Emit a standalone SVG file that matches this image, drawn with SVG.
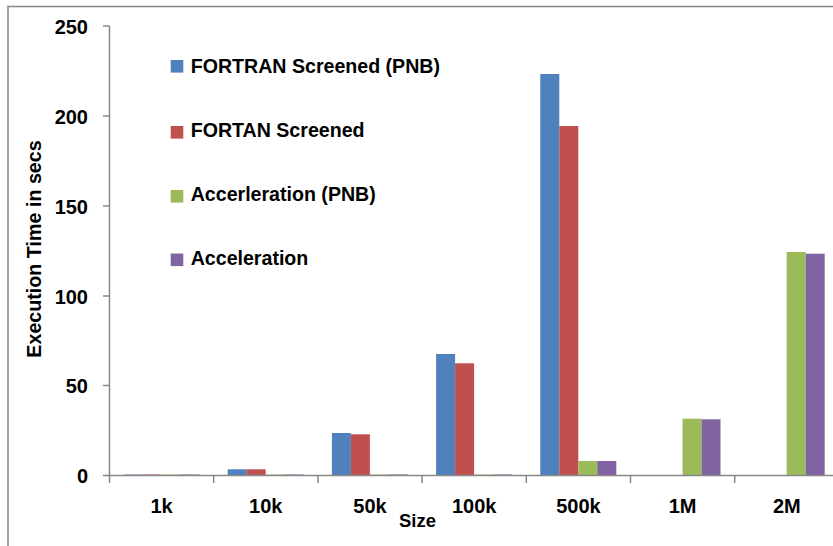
<svg xmlns="http://www.w3.org/2000/svg" width="833" height="546" viewBox="0 0 833 546">
<style>
text{font-family:"Liberation Sans",Arial,sans-serif;font-weight:bold;fill:#000}
.yl{font-size:20px;text-anchor:end}
.xl{font-size:20px;text-anchor:middle}
.lg{font-size:19.6px}
.ax{stroke:#888;stroke-width:1.5;fill:none}
.b{fill:#4F81BD}.r{fill:#C0504D}.g{fill:#9BBB59}.p{fill:#8064A2}
</style>
<rect x="0" y="0" width="833" height="546" fill="#fff"/>
<rect x="8" y="6.5" width="840" height="560" fill="none" stroke="#8a8a8a" stroke-width="1.6"/>
<g id="bars">
<rect class="b" x="123.5" y="474.5" width="19" height="1"/>
<rect class="r" x="142.5" y="474.5" width="19" height="1"/>
<rect class="g" x="161.5" y="474.5" width="19" height="1"/>
<rect class="p" x="180.5" y="474.5" width="19" height="1"/>
<rect class="b" x="227.7" y="469.3" width="19" height="6.2"/>
<rect class="r" x="246.7" y="469.3" width="19" height="6.2"/>
<rect class="g" x="265.7" y="474.5" width="19" height="1"/>
<rect class="p" x="284.7" y="474.5" width="19" height="1"/>
<rect class="b" x="331.9" y="433" width="19" height="42.5"/>
<rect class="r" x="350.9" y="434.3" width="19" height="41.2"/>
<rect class="g" x="369.9" y="474.5" width="19" height="1"/>
<rect class="p" x="388.9" y="474.5" width="19" height="1"/>
<rect class="b" x="436.1" y="354" width="19" height="121.5"/>
<rect class="r" x="455.1" y="363.3" width="19" height="112.2"/>
<rect class="g" x="474.1" y="474.5" width="19" height="1"/>
<rect class="p" x="493.1" y="474.5" width="19" height="1"/>
<rect class="b" x="540.3" y="74" width="19" height="401.5"/>
<rect class="r" x="559.3" y="126" width="19" height="349.5"/>
<rect class="g" x="578.3" y="461" width="19" height="14.5"/>
<rect class="p" x="597.3" y="461" width="19" height="14.5"/>
<rect class="g" x="682.5" y="418.7" width="19" height="56.8"/>
<rect class="p" x="701.5" y="419.3" width="19" height="56.2"/>
<rect class="g" x="786.7" y="252" width="19" height="223.5"/>
<rect class="p" x="805.7" y="253.7" width="19" height="221.8"/>
</g>
<g id="axes">
<path class="ax" d="M109.5 26V475.5H840"/>
<path class="ax" d="M103 26H109.5M103 116H109.5M103 206H109.5M103 296H109.5M103 385.5H109.5M103 475.5H109.5"/>
<path class="ax" d="M109.5 475.5V483M213.7 475.5V483M317.9 475.5V483M422.1 475.5V483M526.3 475.5V483M630.5 475.5V483M734.7 475.5V483"/>
</g>
<g id="ylabels">
<text class="yl" x="88" y="34">250</text>
<text class="yl" x="88" y="124">200</text>
<text class="yl" x="88" y="214">150</text>
<text class="yl" x="88" y="304">100</text>
<text class="yl" x="88" y="393">50</text>
<text class="yl" x="88" y="483">0</text>
</g>
<g id="xlabels">
<text class="xl" x="161.6" y="513">1k</text>
<text class="xl" x="265.8" y="513">10k</text>
<text class="xl" x="370" y="513">50k</text>
<text class="xl" x="474.2" y="513">100k</text>
<text class="xl" x="578.4" y="513">500k</text>
<text class="xl" x="682.6" y="513">1M</text>
<text class="xl" x="786.8" y="513">2M</text>
</g>
<text x="399" y="527" font-size="18.5">Size</text>
<text transform="translate(41 249) rotate(-90)" font-size="19.7" text-anchor="middle">Execution Time in secs</text>
<g id="legend">
<rect class="b" x="170.7" y="60" width="12.6" height="12.6"/>
<text class="lg" x="190.7" y="73.3">FORTRAN Screened (PNB)</text>
<rect class="r" x="170.7" y="126" width="12.6" height="12.6"/>
<text class="lg" x="190.7" y="137">FORTAN Screened</text>
<rect class="g" x="170.7" y="190" width="12.6" height="12.6"/>
<text class="lg" x="190.7" y="201">Accerleration (PNB)</text>
<rect class="p" x="170.7" y="253.5" width="12.6" height="12.6"/>
<text class="lg" x="190.7" y="265">Acceleration</text>
</g>
</svg>
